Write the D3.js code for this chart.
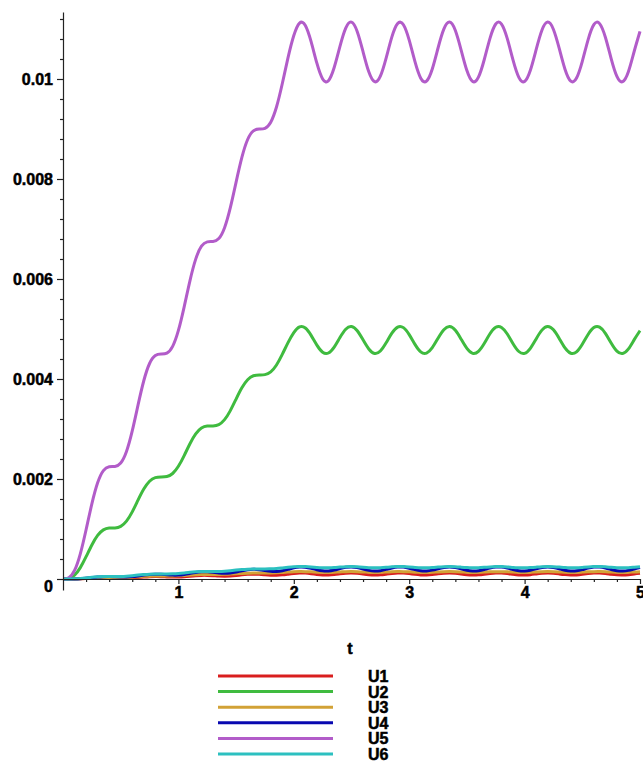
<!DOCTYPE html>
<html>
<head>
<meta charset="utf-8">
<script src="https://cdn.jsdelivr.net/npm/d3@7"></script>
<style>
  html, body { margin: 0; padding: 0; background: #fff; }
  svg { display: block; }
  .lbl { font-family: "Liberation Sans", Arial, sans-serif; font-weight: bold; font-size: 16px; fill: #000; stroke: #000; stroke-width: 0.5px; }
</style>
</head>
<body>
<svg id="chart" width="643" height="762"></svg>
<script>
// Sample times
const t = [0,0.05,0.1,0.15,0.2,0.25,0.3,0.35,0.4,0.45,0.5,0.55,0.6,0.65,0.7,0.75,0.8,0.85,0.9,0.95,
  1,1.05,1.1,1.15,1.2,1.25,1.3,1.35,1.4,1.45,1.5,1.55,1.6,1.65,1.7,1.75,1.8,1.85,1.9,1.95,
  2,2.05,2.1,2.15,2.2,2.25,2.3,2.35,2.4,2.45,2.5,2.55,2.6,2.65,2.7,2.75,2.8,2.85,2.9,2.95,
  3,3.05,3.1,3.15,3.2,3.25,3.3,3.35,3.4,3.45,3.5,3.55,3.6,3.65,3.7,3.75,3.8,3.85,3.9,3.95,
  4,4.05,4.1,4.15,4.2,4.25,4.3,4.35,4.4,4.45,4.5,4.55,4.6,4.65,4.7,4.75,4.8,4.85,4.9,4.95,5];

const U1 = [0,0,0.000001,0.000004,0.000008,0.000014,0.000020,0.000023,0.000024,0.000022,
  0.000020,0.000020,0.000024,0.000031,0.000039,0.000046,0.000048,0.000047,0.000042,0.000039,
  0.000040,0.000046,0.000056,0.000066,0.000072,0.000072,0.000067,0.000060,0.000057,0.000060,
  0.000070,0.000083,0.000093,0.000097,0.000094,0.000085,0.000077,0.000076,0.000083,0.000097,
  0.000111,0.000120,0.000118,0.000107,0.000092,0.000081,0.000080,0.000089,0.000104,0.000117,
  0.000121,0.000114,0.000100,0.000086,0.000079,0.000083,0.000096,0.000110,0.000120,0.000119,
  0.000108,0.000093,0.000082,0.000080,0.000088,0.000103,0.000116,0.000121,0.000115,0.000101,
  0.000087,0.000080,0.000083,0.000095,0.000109,0.000119,0.000119,0.000109,0.000094,0.000082,
  0.000080,0.000087,0.000102,0.000115,0.000121,0.000116,0.000102,0.000088,0.000080,0.000082,
  0.000094,0.000108,0.000119,0.000120,0.000110,0.000095,0.000083,0.000080,0.000087,0.000101,0.000114];

const U2 = [0,0.000011,0.000077,0.000228,0.000446,0.000681,0.000872,0.000983,0.001019,0.001021,
  0.001052,0.001157,0.001343,0.001577,0.001798,0.001955,0.002027,0.002040,0.002049,0.002110,
  0.002254,0.002469,0.002705,0.002901,0.003018,0.003058,0.003061,0.003088,0.003187,0.003368,
  0.003599,0.003824,0.003986,0.004065,0.004081,0.004087,0.004143,0.004281,0.004492,0.004728,
  0.004929,0.005043,0.005020,0.004873,0.004678,0.004536,0.004520,0.004639,0.004831,0.004996,
  0.005050,0.004964,0.004783,0.004600,0.004510,0.004560,0.004724,0.004917,0.005039,0.005027,
  0.004887,0.004692,0.004542,0.004516,0.004626,0.004816,0.004987,0.005051,0.004975,0.004797,
  0.004611,0.004512,0.004552,0.004710,0.004904,0.005034,0.005032,0.004901,0.004706,0.004550,
  0.004513,0.004614,0.004801,0.004977,0.005051,0.004985,0.004812,0.004623,0.004515,0.004544,
  0.004696,0.004890,0.005028,0.005037,0.004914,0.004720,0.004558,0.004511,0.004603,0.004787,0.004967];

const U3 = [0,0,0.000002,0.000007,0.000013,0.000020,0.000026,0.000029,0.000030,0.000030,
  0.000031,0.000034,0.000039,0.000046,0.000053,0.000057,0.000059,0.000060,0.000060,0.000062,
  0.000066,0.000072,0.000079,0.000085,0.000088,0.000090,0.000090,0.000090,0.000093,0.000099,
  0.000105,0.000112,0.000117,0.000119,0.000120,0.000120,0.000121,0.000125,0.000132,0.000138,
  0.000144,0.000148,0.000147,0.000143,0.000137,0.000133,0.000132,0.000136,0.000141,0.000146,
  0.000148,0.000145,0.000140,0.000135,0.000132,0.000134,0.000138,0.000144,0.000148,0.000147,
  0.000143,0.000137,0.000133,0.000132,0.000135,0.000141,0.000146,0.000148,0.000146,0.000141,
  0.000135,0.000132,0.000133,0.000138,0.000144,0.000147,0.000147,0.000144,0.000138,0.000133,
  0.000132,0.000135,0.000141,0.000146,0.000148,0.000146,0.000141,0.000135,0.000132,0.000133,
  0.000138,0.000143,0.000147,0.000148,0.000144,0.000138,0.000134,0.000132,0.000135,0.000140,0.000145];

const U4 = [0,0,0.000002,0.000007,0.000017,0.000028,0.000039,0.000046,0.000048,0.000044,
  0.000041,0.000041,0.000048,0.000062,0.000078,0.000092,0.000097,0.000093,0.000084,0.000078,
  0.000079,0.000092,0.000112,0.000132,0.000144,0.000144,0.000134,0.000121,0.000114,0.000120,
  0.000140,0.000166,0.000187,0.000195,0.000187,0.000170,0.000154,0.000151,0.000166,0.000193,
  0.000223,0.000240,0.000237,0.000214,0.000185,0.000163,0.000160,0.000179,0.000208,0.000233,
  0.000241,0.000228,0.000200,0.000173,0.000159,0.000167,0.000192,0.000221,0.000239,0.000238,
  0.000216,0.000187,0.000164,0.000160,0.000177,0.000206,0.000232,0.000241,0.000230,0.000203,
  0.000174,0.000159,0.000165,0.000189,0.000219,0.000239,0.000239,0.000218,0.000189,0.000165,
  0.000159,0.000175,0.000203,0.000230,0.000241,0.000231,0.000205,0.000176,0.000160,0.000164,
  0.000187,0.000217,0.000238,0.000239,0.000220,0.000191,0.000166,0.000159,0.000173,0.000201,0.000229];

const U5 = [0,0.000023,0.000171,0.000503,0.000984,0.001501,0.001923,0.002168,0.002246,0.002252,
  0.002320,0.002551,0.002962,0.003477,0.003965,0.004310,0.004470,0.004499,0.004517,0.004653,
  0.004971,0.005444,0.005964,0.006397,0.006656,0.006743,0.006750,0.006809,0.007026,0.007426,
  0.007937,0.008431,0.008790,0.008963,0.008998,0.009012,0.009136,0.009440,0.009905,0.010426,
  0.010869,0.011119,0.011070,0.010746,0.010316,0.010001,0.009966,0.010229,0.010652,0.011017,
  0.011136,0.010946,0.010546,0.010143,0.009946,0.010056,0.010417,0.010842,0.011110,0.011084,
  0.010776,0.010346,0.010016,0.009958,0.010200,0.010620,0.010997,0.011138,0.010970,0.010579,
  0.010168,0.009950,0.010037,0.010385,0.010813,0.011100,0.011097,0.010806,0.010377,0.010033,
  0.009951,0.010175,0.010587,0.010975,0.011138,0.010991,0.010611,0.010194,0.009956,0.010020,
  0.010354,0.010784,0.011088,0.011108,0.010835,0.010408,0.010051,0.009947,0.010150,0.010555,0.010952];

const U6 = [0,0.000001,0.000004,0.000011,0.000022,0.000034,0.000043,0.000049,0.000050,0.000050,
  0.000052,0.000057,0.000066,0.000078,0.000089,0.000097,0.000100,0.000101,0.000101,0.000104,
  0.000111,0.000122,0.000134,0.000143,0.000149,0.000151,0.000151,0.000152,0.000157,0.000166,
  0.000178,0.000189,0.000197,0.000201,0.000201,0.000202,0.000205,0.000211,0.000222,0.000233,
  0.000243,0.000249,0.000248,0.000241,0.000231,0.000224,0.000223,0.000229,0.000239,0.000247,
  0.000249,0.000245,0.000236,0.000227,0.000223,0.000225,0.000233,0.000243,0.000249,0.000248,
  0.000241,0.000232,0.000224,0.000223,0.000228,0.000238,0.000246,0.000249,0.000246,0.000237,
  0.000228,0.000223,0.000225,0.000233,0.000242,0.000249,0.000248,0.000242,0.000232,0.000225,
  0.000223,0.000228,0.000237,0.000246,0.000249,0.000246,0.000238,0.000228,0.000223,0.000224,
  0.000232,0.000241,0.000248,0.000249,0.000243,0.000233,0.000225,0.000223,0.000227,0.000236,0.000245];

const seriesNames = ["U1", "U2", "U3", "U4", "U5", "U6"];
const seriesValues = [U1, U2, U3, U4, U5, U6];
const seriesColors = ["#d91e1e", "#3fbb3f", "#d2a236", "#0808b0", "#b25cc9", "#2cc0c0"];

const xTicks = [1, 2, 3, 4, 5];
const xMinor = [0.2,0.4,0.6,0.8,1.2,1.4,1.6,1.8,2.2,2.4,2.6,2.8,3.2,3.4,3.6,3.8,4.2,4.4,4.6,4.8];
const yTicks = [0, 0.002, 0.004, 0.006, 0.008, 0.01];
const yTickLabels = ["0", "0.002", "0.004", "0.006", "0.008", "0.01"];
const yMinor = d3.range(1, 29).map(i => +(i * 0.0004).toFixed(4)).filter(v => !yTicks.some(m => Math.abs(m - v) < 1e-9));
const xLabel = "t";

const svg = d3.select("#chart");

const x = d3.scaleLinear().domain([0, 5]).range([63, 640]);
const y = d3.scaleLinear().domain([-0.00022, 0.01134]).range([590, 12]);

// Curves, drawn in series order so later ones sit on top
const line = d3.line().x(d => x(d[0])).y(d => y(d[1])).curve(d3.curveNatural);
const plot = svg.append("g");
seriesValues.forEach((vals, i) => {
  plot.append("path")
    .datum(t.map((tt, k) => [tt, vals[k]]))
    .attr("fill", "none")
    .attr("stroke", seriesColors[i])
    .attr("stroke-width", 3)
    .attr("stroke-linejoin", "round")
    .attr("d", line);
});

// Axes
const axisColor = "#222";
const yAxis = svg.append("g").attr("transform", `translate(${x(0)},0)`)
  .call(d3.axisLeft(y).tickValues(yTicks).tickSize(6).tickSizeOuter(0).tickPadding(4)
    .tickFormat((d, i) => yTickLabels[i]));
svg.append("g").attr("transform", `translate(${x(0)},0)`)
  .call(d3.axisLeft(y).tickValues(yMinor).tickSize(3).tickSizeOuter(0).tickFormat(""))
  .call(g => g.select(".domain").remove());

const xAxis = svg.append("g").attr("transform", `translate(0,${y(0)})`)
  .call(d3.axisBottom(x).tickValues(xTicks).tickSize(5).tickSizeOuter(0).tickPadding(3)
    .tickFormat(d3.format("d")));
svg.append("g").attr("transform", `translate(0,${y(0)})`)
  .call(d3.axisBottom(x).tickValues(xMinor).tickSize(3).tickSizeOuter(0).tickFormat(""))
  .call(g => g.select(".domain").remove());

svg.selectAll(".domain, .tick line").attr("stroke", axisColor).attr("stroke-width", 1.2);
svg.selectAll(".tick text").attr("class", "lbl").attr("fill", "#000");
// the zero label sits a little below the x axis
yAxis.selectAll(".tick").filter(d => d === 0).select("text").attr("dy", "0.75em");

svg.append("text").attr("class", "lbl")
  .attr("x", 350).attr("y", 654).attr("text-anchor", "middle").text(xLabel);

// Legend
const legend = svg.append("g");
seriesNames.forEach((name, i) => {
  const ly = 676 + i * 15.6;
  legend.append("line").attr("x1", 218).attr("x2", 333).attr("y1", ly).attr("y2", ly)
    .attr("stroke", seriesColors[i]).attr("stroke-width", 3);
  legend.append("text").attr("class", "lbl").attr("x", 368).attr("y", ly + 6).text(name);
});
</script>
</body>
</html>
